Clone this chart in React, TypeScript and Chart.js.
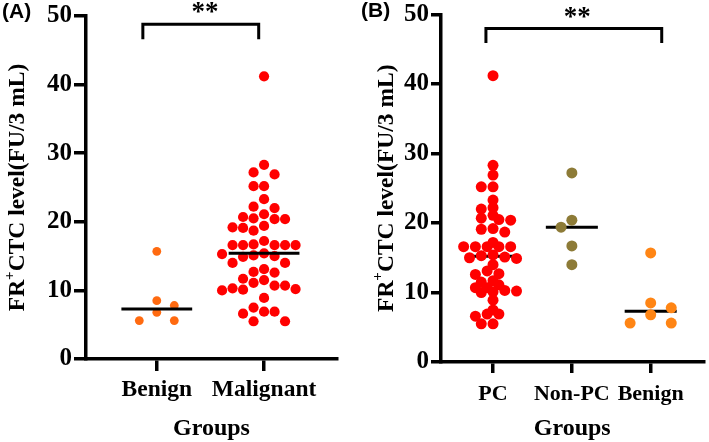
import React, { useEffect, useRef } from "react";
import { Chart, registerables } from "chart.js";

Chart.register(...registerables);

// ---------------- data ----------------
const groupsA = ["Benign", "Malignant"];
const groupsB = ["PC", "Non-PC", "Benign"];
const benign = [15.7, 8.5, 7.8, 6.8, 5.6, 5.6];
const nonPC = [27.2, 20.4, 19.4, 16.7, 14.0];
const pc = [
  41.2, 28.3, 26.9, 25.2, 25.2, 23.3, 22.2, 22.0, 21.1, 20.7, 20.5, 20.4, 19.2, 19.1, 18.7, 17.2,
  16.6, 16.6, 16.6, 16.6, 16.6, 15.4, 15.3, 15.1, 15.0, 14.9, 14.0, 13.1, 12.7, 12.6, 11.7, 11.5,
  11.1, 10.7, 10.7, 10.3, 10.2, 10.1, 10.0, 8.9, 7.5, 6.9, 6.9, 6.6, 5.5, 5.5,
];
const malignant = [...pc, ...nonPC];
const yTicks = [0, 10, 20, 30, 40, 50];
const yTitleMain1 = "FR";
const yTitleSup = "+";
const yTitleMain2 = "CTC level(FU/3 mL)";
const xTitle = "Groups";
const significance = "**";

// ---------------- styling ----------------
const SERIF = '"Liberation Serif", "Times New Roman", serif';
const SANS = '"Liberation Sans", Arial, sans-serif';
const H = 442;

type Swarm = { step: number; collide: number; side: number };
interface PanelCfg {
  label: string;
  groups: string[];
  series: number[][];
  colors: string[];
  radii: number[];
  swarm: Swarm[];
  left: number;
  width: number;
  area: { left: number; right: number; top: number; bottom: number };
  xMin: number;
  xMax: number;
  medianOnTop: boolean;
  bracket: { x1: number; x2: number; yTop: number; yBottom: number };
  starsX: number;
  starsGap: number;
  titleX: number;
  labelX: number;
  labelBase: number;
  yTickLen: number;
  yTickPad: number;
  xTickLen: number;
  xTickPad: number;
  xTickSize: number;
}

const panelA: PanelCfg = {
  label: "(A)",
  groups: groupsA,
  series: [benign, malignant],
  colors: ["#FF6A10", "#FF0000"],
  radii: [4.4, 5.1],
  swarm: [
    { step: 17.5, collide: 10, side: 1 },
    { step: 10.5, collide: 10.5, side: -1 },
  ],
  left: 0,
  width: 345,
  area: { left: 86, right: 337, top: 16, bottom: 359 },
  xMin: -0.66,
  xMax: 1.68,
  medianOnTop: true,
  bracket: { x1: -0.13, x2: 0.95, yTop: 48.8, yBottom: 46.6 },
  starsX: 0.45,
  starsGap: 4.5,
  titleX: 18,
  labelX: 2,
  labelBase: 17.5,
  yTickLen: 12,
  yTickPad: 2,
  xTickLen: 12,
  xTickPad: 7,
  xTickSize: 23.5,
};

const panelB: PanelCfg = {
  label: "(B)",
  groups: groupsB,
  series: [pc, nonPC, benign],
  colors: ["#FF0000", "#8D7B37", "#FF8514"],
  radii: [5.5, 5.5, 5.5],
  swarm: [
    { step: 6, collide: 7, side: -1 },
    { step: 11, collide: 9, side: -1 },
    { step: 21, collide: 10, side: 1 },
  ],
  left: 355,
  width: 354,
  area: { left: 86, right: 354, top: 14, bottom: 362 },
  xMin: -0.66,
  xMax: 2.67,
  medianOnTop: false,
  bracket: { x1: -0.09, x2: 2.14, yTop: 48.0, yBottom: 45.9 },
  starsX: 1.07,
  starsGap: 3.5,
  titleX: 31.5,
  labelX: 6,
  labelBase: 16.5,
  yTickLen: 10,
  yTickPad: 2,
  xTickLen: 11,
  xTickPad: 10,
  xTickSize: 22,
};

function median(vals: number[]): number {
  const s = [...vals].sort((a, b) => a - b);
  const n = s.length;
  return n % 2 ? s[(n - 1) / 2] : (s[n / 2 - 1] + s[n / 2]) / 2;
}

// deterministic beeswarm: columns of fixed step, greedy placement by value
function swarmPoints(vals: number[], center: number, sw: Swarm, pxPerX: number, pxPerY: number) {
  const order = vals.map((_, i) => i).sort((a, b) => vals[b] - vals[a]);
  const placed: { xp: number; yp: number }[] = [];
  const out: { x: number; y: number }[] = new Array(vals.length);
  for (const i of order) {
    const yp = vals[i] * pxPerY;
    for (let k = 0; k < 80; k++) {
      const col = k === 0 ? 0 : (k % 2 === 1 ? sw.side : -sw.side) * Math.ceil(k / 2);
      const xp = col * sw.step;
      const ok = placed.every((p) => Math.hypot(p.xp - xp, p.yp - yp) >= sw.collide - 1e-6);
      if (ok) {
        placed.push({ xp, yp });
        out[i] = { x: center + xp / pxPerX, y: vals[i] };
        break;
      }
    }
  }
  return out;
}

function Panel({ cfg }: { cfg: PanelCfg }) {
  const ref = useRef<HTMLCanvasElement>(null);
  useEffect(() => {
    const canvas = ref.current;
    if (!canvas) return;
    const plotW = cfg.area.right - cfg.area.left;
    const plotH = cfg.area.bottom - cfg.area.top;
    const pxPerX = plotW / (cfg.xMax - cfg.xMin);
    const pxPerY = plotH / 50;

    const datasets: any[] = [];
    cfg.series.forEach((vals, gi) => {
      datasets.push({
        type: "scatter",
        data: swarmPoints(vals, gi, cfg.swarm[gi], pxPerX, pxPerY),
        backgroundColor: cfg.colors[gi],
        borderWidth: 0,
        pointRadius: cfg.radii[gi],
        pointHoverRadius: cfg.radii[gi],
        order: cfg.medianOnTop ? 2 : 0,
        clip: false,
      });
      const m = median(vals);
      datasets.push({
        type: "scatter",
        showLine: true,
        data: [
          { x: gi - 0.33, y: m },
          { x: gi + 0.33, y: m },
        ],
        borderColor: "#000",
        borderWidth: 3,
        pointRadius: 0,
        order: cfg.medianOnTop ? 0 : 2,
      });
    });
    const b = cfg.bracket;
    datasets.push({
      type: "scatter",
      showLine: true,
      data: [
        { x: b.x1, y: b.yBottom },
        { x: b.x1, y: b.yTop },
        { x: b.x2, y: b.yTop },
        { x: b.x2, y: b.yBottom },
      ],
      borderColor: "#000",
      borderWidth: 3,
      pointRadius: 0,
      clip: false,
      borderJoinStyle: "miter",
      order: 1,
    });

    const overlay = {
      id: "overlay",
      afterDraw(chart: any) {
        const { ctx, chartArea: ca, scales } = chart;
        ctx.save();
        ctx.fillStyle = "#000";
        // panel label
        ctx.font = `bold 21px ${SANS}`;
        ctx.textAlign = "left";
        ctx.textBaseline = "alphabetic";
        ctx.fillText(cfg.label, cfg.labelX, cfg.labelBase);
        // significance stars
        ctx.font = `bold 27px ${SERIF}`;
        ctx.textAlign = "center";
        const sy = scales.y.getPixelForValue(b.yTop);
        ctx.fillText(significance, scales.x.getPixelForValue(cfg.starsX), sy - cfg.starsGap);
        // y-axis title with superscript
        ctx.translate(cfg.titleX, (ca.top + ca.bottom) / 2);
        ctx.rotate(-Math.PI / 2);
        ctx.textAlign = "left";
        ctx.textBaseline = "middle";
        const fMain = `bold 23.5px ${SERIF}`;
        const fSup = `bold 15px ${SERIF}`;
        ctx.font = fMain;
        const w1 = ctx.measureText(yTitleMain1).width;
        const w3 = ctx.measureText(yTitleMain2).width;
        ctx.font = fSup;
        const w2 = ctx.measureText(yTitleSup).width;
        let x = -(w1 + w2 + w3) / 2;
        ctx.font = fMain;
        ctx.fillText(yTitleMain1, x, 0);
        x += w1;
        ctx.font = fSup;
        ctx.fillText(yTitleSup, x, -8);
        x += w2;
        ctx.font = fMain;
        ctx.fillText(yTitleMain2, x, 0);
        ctx.restore();
      },
    };

    const chart = new Chart(canvas, {
      type: "scatter",
      data: { datasets },
      options: {
        animation: false,
        responsive: false,
        events: [],
        layout: {
          padding: {
            left: 0,
            top: cfg.area.top,
            right: cfg.width - cfg.area.right,
            bottom: 0,
          },
        },
        plugins: { legend: { display: false }, tooltip: { enabled: false } },
        scales: {
          x: {
            type: "linear",
            min: cfg.xMin,
            max: cfg.xMax,
            afterFit: (s: any) => {
              s.height = H - cfg.area.bottom;
            },
            afterBuildTicks: (s: any) => {
              s.ticks = cfg.groups.map((_, i) => ({ value: i }));
            },
            ticks: {
              autoSkip: false,
              maxRotation: 0,
              minRotation: 0,
              padding: cfg.xTickPad,
              color: "#000",
              font: { family: SERIF, size: cfg.xTickSize, weight: "bold", lineHeight: 1 },
              callback: (v: any) => cfg.groups[Math.round(Number(v))] ?? "",
            },
            grid: {
              drawOnChartArea: false,
              drawTicks: true,
              tickLength: cfg.xTickLen,
              lineWidth: 3.5,
              color: "#000",
            },
            border: { display: true, width: 3.5, color: "#000" },
            title: {
              display: true,
              text: xTitle,
              color: "#000",
              font: { family: SERIF, size: 24, weight: "bold", lineHeight: 1 },
              padding: { top: 0, bottom: 1 },
            },
          },
          y: {
            type: "linear",
            min: 0,
            max: 50,
            afterFit: (s: any) => {
              s.width = cfg.area.left;
            },
            afterBuildTicks: (s: any) => {
              s.ticks = yTicks.map((v) => ({ value: v }));
            },
            ticks: {
              padding: cfg.yTickPad,
              color: "#000",
              font: { family: SERIF, size: 25, weight: "bold", lineHeight: 1 },
            },
            grid: {
              drawOnChartArea: false,
              drawTicks: true,
              tickLength: cfg.yTickLen,
              lineWidth: 3.5,
              color: "#000",
            },
            border: { display: true, width: 3.5, color: "#000" },
          },
        },
      } as any,
      plugins: [overlay],
    });
    return () => chart.destroy();
  }, [cfg]);

  return (
    <canvas
      ref={ref}
      width={cfg.width}
      height={H}
      style={{ position: "absolute", left: cfg.left, top: 0, width: cfg.width, height: H }}
    />
  );
}

export default function App() {
  return (
    <div
      style={{
        position: "absolute",
        left: 0,
        top: 0,
        width: 709,
        height: H,
        background: "#fff",
        overflow: "hidden",
      }}
    >
      <Panel cfg={panelA} />
      <Panel cfg={panelB} />
    </div>
  );
}
